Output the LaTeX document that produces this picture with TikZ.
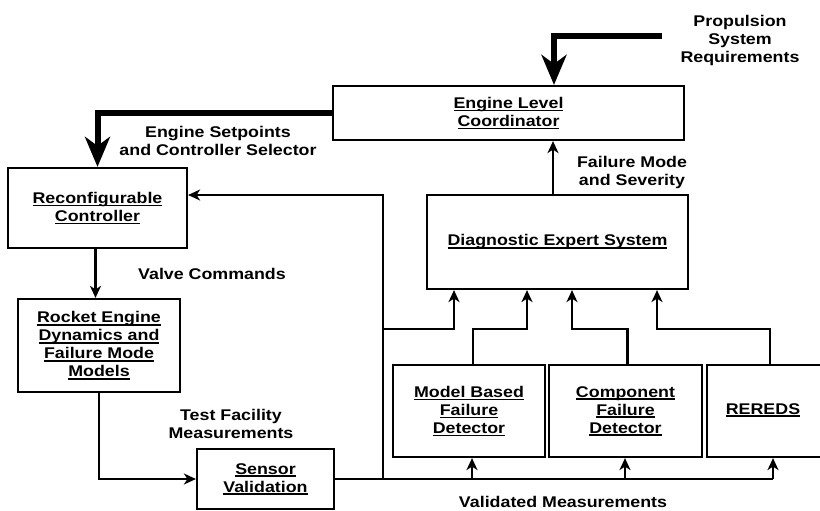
\documentclass[tikz,border=0pt]{standalone}
\usepackage{fontspec}
\setmainfont{Liberation Sans}[FakeStretch=1.15]
\usetikzlibrary{arrows.meta}
\newcommand\uln[1]{\setbox0\hbox{#1}\rlap{\rule[-2.8pt]{\wd0}{1.5pt}}\box0}
\begin{document}
\begin{tikzpicture}[x=1pt,y=-1pt,
  every node/.style={font=\fontsize{15.5}{18}\selectfont\bfseries},
  box/.style={draw, line width=2.2pt, inner sep=0pt, align=center},
  lbl/.style={inner sep=0pt, align=center},
  conn/.style={line width=2.2pt},
  arr/.style={line width=2.2pt, -{Stealth[length=12pt,width=11pt,inset=3.5pt]}},
  bigarr/.style={line width=6pt, -{Stealth[length=30pt,width=25pt,inset=9pt]}}]
\useasboundingbox (0,0) rectangle (820,511);
\clip (0,0) rectangle (820,511);
% boxes
\node[box, minimum width=351pt, minimum height=54pt] (elc) at (508.5,113) {\uln{Engine Level}\\\uln{Coordinator}};
\node[box, minimum width=179pt, minimum height=80pt] (rc) at (97.5,208) {\uln{Reconfigurable}\\\uln{Controller}};
\node[box, minimum width=162pt, minimum height=93pt] (red) at (99,345.5) {\uln{Rocket Engine}\\\uln{Dynamics and}\\\uln{Failure Mode}\\\uln{Models}};
\node[box, minimum width=137pt, minimum height=60pt] (sv) at (265.5,479) {\uln{Sensor}\\\uln{Validation}};
\node[box, minimum width=261pt, minimum height=94pt] (des) at (557.5,242) {\uln{Diagnostic Expert System}};
\node[box, minimum width=152pt, minimum height=92pt] (mb) at (469,411) {\uln{Model Based}\\\uln{Failure}\\\uln{Detector}};
\node[box, minimum width=153pt, minimum height=92pt] (cf) at (625.5,411) {\uln{Component}\\\uln{Failure}\\\uln{Detector}};
\node[box, minimum width=123pt, minimum height=92pt] (rr) at (768.5,411) {};
\node[lbl] (rrt) at (763,410) {\uln{REREDS}};
% labels
\node[lbl] (l1) at (218,141) {Engine Setpoints\\and Controller Selector};
\node[lbl] (l2) at (212,274) {Valve Commands};
\node[lbl] (l3) at (231,424) {Test Facility\\Measurements};
\node[lbl] (l4) at (632,172) {Failure Mode\\and Severity};
\node[lbl] (l5) at (740,40) {Propulsion\\System\\Requirements};
\node[lbl] (l6) at (563,502) {Validated Measurements};
% coordinates
\coordinate (prop) at (662,36);
\coordinate (px) at (554,36);
\coordinate (t0) at (383,479);
\coordinate (t1) at (383,195);
\coordinate (t2) at (383,329);
\coordinate (dx1) at (454,329);
\coordinate (dx2) at (527,329);
\coordinate (dx3) at (572,329);
\coordinate (dx4) at (657,329);
\coordinate (fx) at (553,0);
\coordinate (bm) at (472,479);
\coordinate (bc) at (625,479);
\coordinate (br) at (773,479);
% thick arrows
\draw[bigarr] (prop) -- (px) -- (px |- elc.north);
\draw[bigarr] (elc.west) -| (rc.north);
% thin connectors
\draw[arr] ([xshift=-2pt]rc.south) -- ([xshift=-2pt]rc.south |- red.north);
\draw[arr] (red.south) |- (sv.west);
\draw[conn] (sv.east) -- (br);
\draw[arr] (t0) -- (t1) -- (t1 -| rc.east);
\draw[arr] (t2) -| (dx1 |- des.south);
\draw[arr] ([xshift=4pt]mb.north) |- (dx2) -- (dx2 |- des.south);
\draw[arr] ([xshift=2pt]cf.north) |- (dx3) -- (dx3 |- des.south);
\draw[arr] ([xshift=1.5pt]rr.north) |- (dx4) -- (dx4 |- des.south);
\draw[arr] (fx |- des.north) -- (fx |- elc.south);
\draw[arr] (bm) -- (bm |- mb.south);
\draw[arr] (bc) -- (bc |- cf.south);
\draw[arr] (br) -- (br |- rr.south);
\end{tikzpicture}
\end{document}
